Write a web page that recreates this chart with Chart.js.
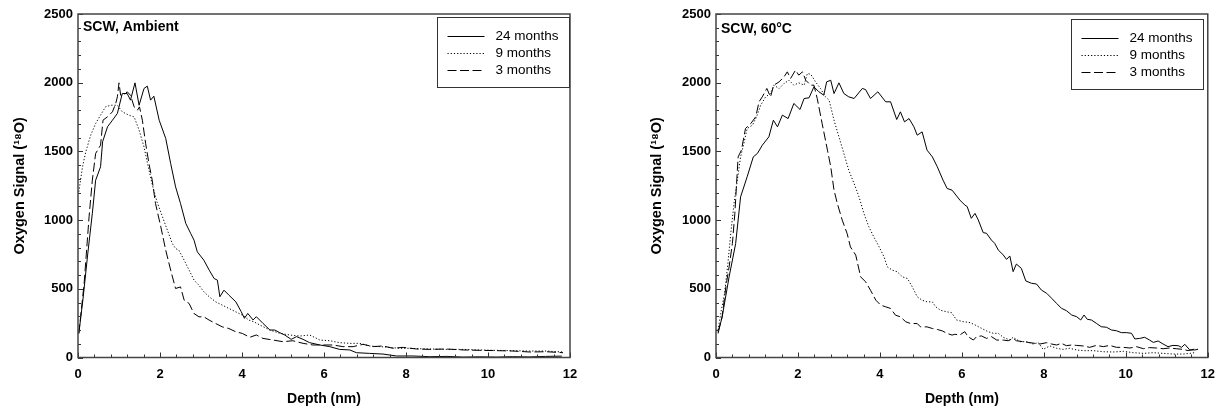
<!DOCTYPE html>
<html>
<head>
<meta charset="utf-8">
<script src="https://cdn.jsdelivr.net/npm/chart.js@4.4.1/dist/chart.umd.min.js"></script>
<style>
  html, body { margin: 0; padding: 0; background: #fff; }
  #wrap { position: relative; width: 1224px; height: 416px; }
  .panel { position: absolute; top: 0; width: 612px; height: 416px; }
</style>
</head>
<body>
<div id="wrap">
  <div class="panel" style="left:0"><canvas id="ambientChart" width="612" height="416"></canvas></div>
  <div class="panel" style="left:612px"><canvas id="hotChart" width="612" height="416"></canvas></div>
</div>
<script>
// [depth nm, 18O signal]
const seriesLabels = ["24 months", "9 months", "3 months"];
const panelNotes = ["SCW, Ambient", "SCW, 60°C"];
const xTickLabels = [0, 2, 4, 6, 8, 10, 12];
const yTickLabels = [0, 500, 1000, 1500, 2000, 2500];

const ambient24 = [[0.02,175],[0.12,420],[0.24,760],[0.35,1050],[0.43,1290],[0.55,1388],[0.6,1570],[0.72,1679],[0.84,1727],[0.96,1776],[1.08,1921],[1.2,1921],[1.28,1873],[1.39,1999],[1.49,1836],[1.61,1958],[1.69,1975],[1.77,1873],[1.85,1902],[1.98,1727],[2.14,1594],[2.26,1412],[2.38,1242],[2.5,1121],[2.63,975],[2.75,902],[2.83,854],[2.91,769],[3.07,708],[3.2,636],[3.32,575],[3.4,563],[3.46,442],[3.56,490],[3.68,454],[3.85,405],[3.98,334],[4.06,285],[4.14,321],[4.27,273],[4.35,297],[4.51,249],[4.68,200],[4.8,200],[4.92,181],[5.04,164],[5.2,132],[5.33,152],[5.49,132],[5.65,108],[5.9,91],[6.14,79],[6.38,59],[6.63,55],[6.79,35],[7.11,30],[7.44,25],[7.77,11],[8.17,11],[8.58,6],[9.0,8],[9.39,3],[9.8,5],[10.2,3],[10.6,6],[11.0,4],[11.4,8],[11.8,10]];
const ambient9 = [[0.02,1206],[0.11,1388],[0.19,1497],[0.31,1618],[0.43,1703],[0.55,1764],[0.67,1824],[0.8,1836],[0.96,1836],[1.08,1788],[1.24,1764],[1.37,1751],[1.49,1655],[1.61,1533],[1.69,1420],[1.81,1260],[1.93,1130],[2.06,1024],[2.18,927],[2.3,830],[2.38,793],[2.46,781],[2.59,708],[2.71,636],[2.83,563],[2.95,526],[3.07,478],[3.2,442],[3.36,405],[3.52,381],[3.68,357],[3.85,332],[4.01,308],[4.17,272],[4.29,260],[4.43,237],[4.68,200],[4.92,176],[5.16,164],[5.41,156],[5.65,164],[5.9,127],[6.14,122],[6.38,108],[6.63,103],[6.87,103],[7.11,84],[7.36,79],[7.6,74],[7.85,67],[8.09,67],[8.33,64],[8.58,62],[8.98,59],[9.39,59],[9.8,55],[10.2,52],[10.61,50],[11.02,47],[11.42,47],[11.83,40]];
const ambient3 = [[0.02,175],[0.15,540],[0.27,1024],[0.35,1291],[0.43,1485],[0.55,1545],[0.61,1727],[0.72,1752],[0.84,1788],[0.92,1849],[0.96,1897],[1.0,1999],[1.04,1909],[1.12,1909],[1.2,1934],[1.28,1909],[1.37,1824],[1.45,1800],[1.5,1824],[1.57,1727],[1.65,1557],[1.73,1412],[1.81,1291],[1.89,1121],[2.02,951],[2.14,781],[2.26,636],[2.38,502],[2.5,514],[2.59,417],[2.71,393],[2.83,320],[2.95,296],[3.07,296],[3.2,272],[3.36,247],[3.52,223],[3.68,211],[3.85,187],[4.01,175],[4.19,147],[4.35,164],[4.51,139],[4.76,127],[5.0,115],[5.24,122],[5.49,103],[5.73,91],[5.98,91],[6.22,91],[6.46,79],[6.71,79],[6.95,96],[7.2,79],[7.44,84],[7.68,67],[7.93,74],[8.25,62],[8.58,59],[8.98,62],[9.39,55],[9.8,52],[10.2,50],[10.61,47],[11.02,40],[11.42,42],[11.83,35]];

const hot24 = [[0.05,175],[0.15,296],[0.32,587],[0.48,830],[0.6,1169],[0.76,1315],[0.91,1460],[1.01,1485],[1.13,1545],[1.29,1606],[1.4,1727],[1.5,1679],[1.62,1764],[1.76,1739],[1.9,1849],[2.05,1805],[2.15,1885],[2.27,1890],[2.39,1970],[2.51,1934],[2.63,1909],[2.7,2006],[2.8,2018],[2.88,1921],[3.0,1999],[3.12,1921],[3.24,1897],[3.37,1885],[3.57,1958],[3.65,1950],[3.77,1885],[3.95,1934],[4.14,1861],[4.26,1861],[4.41,1732],[4.5,1788],[4.6,1715],[4.71,1739],[4.83,1679],[4.91,1618],[5.03,1642],[5.15,1509],[5.28,1460],[5.4,1388],[5.54,1291],[5.64,1230],[5.76,1218],[5.95,1146],[6.07,1110],[6.13,1098],[6.23,1013],[6.32,1049],[6.4,1001],[6.52,909],[6.6,904],[6.72,855],[6.8,831],[6.89,782],[7.01,746],[7.09,714],[7.17,739],[7.25,625],[7.33,680],[7.45,649],[7.56,557],[7.7,540],[7.82,535],[7.94,491],[8.07,467],[8.19,431],[8.31,394],[8.43,358],[8.55,341],[8.68,309],[8.8,297],[8.9,273],[8.98,309],[9.06,278],[9.16,273],[9.28,249],[9.4,224],[9.53,220],[9.65,200],[9.77,195],[9.89,181],[10.02,181],[10.14,176],[10.22,135],[10.34,139],[10.46,147],[10.58,127],[10.67,110],[10.79,120],[10.91,98],[11.03,79],[11.15,88],[11.28,86],[11.36,74],[11.44,96],[11.56,55],[11.68,55],[11.76,59]];
const hot9 = [[0.05,199],[0.13,344],[0.21,466],[0.29,684],[0.36,902],[0.44,1121],[0.52,1291],[0.6,1460],[0.68,1557],[0.76,1667],[0.89,1691],[0.99,1752],[1.09,1836],[1.21,1897],[1.33,1921],[1.41,1982],[1.54,1958],[1.66,1994],[1.78,2018],[1.9,1982],[2.02,1999],[2.15,1982],[2.23,2067],[2.31,2062],[2.43,2006],[2.55,1958],[2.67,1897],[2.76,1873],[2.88,1727],[3.0,1606],[3.12,1485],[3.24,1363],[3.37,1266],[3.49,1169],[3.61,1048],[3.73,951],[3.85,878],[3.98,805],[4.1,733],[4.18,660],[4.3,636],[4.42,624],[4.55,587],[4.67,575],[4.79,514],[4.91,442],[5.03,417],[5.15,405],[5.28,405],[5.36,369],[5.48,344],[5.64,332],[5.75,326],[5.87,273],[6.03,261],[6.2,254],[6.32,237],[6.48,212],[6.64,188],[6.77,176],[6.89,176],[7.01,147],[7.17,127],[7.25,147],[7.42,115],[7.58,115],[7.74,98],[7.87,108],[7.98,59],[8.15,84],[8.31,67],[8.47,59],[8.63,67],[8.8,55],[8.96,50],[9.2,50],[9.45,42],[9.69,40],[9.94,45],[10.18,35],[10.43,30],[10.67,35],[10.91,30],[11.16,25],[11.4,25],[11.56,30],[11.68,35]];
const hot3 = [[0.05,187],[0.15,296],[0.24,514],[0.32,660],[0.4,830],[0.46,1048],[0.54,1460],[0.62,1509],[0.72,1667],[0.85,1703],[0.97,1752],[1.05,1861],[1.13,1897],[1.24,1958],[1.33,1897],[1.41,1982],[1.54,2006],[1.66,2043],[1.74,2079],[1.82,2031],[1.94,2091],[2.02,2055],[2.11,2079],[2.19,2018],[2.31,1982],[2.39,1982],[2.47,1885],[2.59,1703],[2.72,1509],[2.8,1388],[2.88,1218],[2.96,1121],[3.08,1000],[3.2,902],[3.28,805],[3.41,745],[3.53,587],[3.65,551],[3.77,490],[3.9,417],[4.02,381],[4.14,369],[4.26,357],[4.38,308],[4.5,296],[4.63,260],[4.75,247],[4.91,247],[4.99,223],[5.15,223],[5.28,211],[5.4,204],[5.52,194],[5.64,175],[5.76,163],[5.83,169],[5.95,164],[6.07,188],[6.15,152],[6.28,127],[6.36,152],[6.48,157],[6.6,139],[6.72,152],[6.85,127],[7.01,127],[7.13,122],[7.25,139],[7.33,122],[7.5,115],[7.66,108],[7.78,103],[7.9,98],[8.07,108],[8.19,98],[8.31,91],[8.43,103],[8.55,86],[8.68,91],[8.8,88],[8.96,84],[9.12,74],[9.28,88],[9.45,79],[9.61,88],[9.77,74],[9.94,74],[10.1,69],[10.26,79],[10.43,64],[10.58,72],[10.75,69],[10.91,64],[11.07,69],[11.23,64],[11.4,59],[11.52,50],[11.64,59],[11.76,64]];

const FONT = "'Liberation Sans', Arial, sans-serif";
Chart.defaults.font.family = FONT;
Chart.defaults.color = "#000";

const lineStyles = [
  { borderDash: [] },
  { borderDash: [1.2, 2] },
  { borderDash: [9, 3.5] },
];

// inward tick marks, box frame, panel note
const frameTicks = {
  id: "frameTicks",
  afterDatasetsDraw(chart, args, opts) {
    const { ctx, chartArea: a, scales } = chart;
    ctx.save();
    ctx.strokeStyle = "#333";
    ctx.lineWidth = 1;
    scales.x.ticks.forEach(t => {
      const px = Math.round(scales.x.getPixelForValue(t.value)) + 0.5;
      const len = t.label ? 5 : 3;
      ctx.beginPath();
      ctx.moveTo(px, a.bottom);
      ctx.lineTo(px, a.bottom - len);
      ctx.stroke();
    });
    scales.y.ticks.forEach(t => {
      const py = Math.round(scales.y.getPixelForValue(t.value)) + 0.5;
      const len = t.label ? 5 : 3;
      ctx.beginPath();
      ctx.moveTo(a.left, py);
      ctx.lineTo(a.left + len, py);
      ctx.stroke();
    });
    ctx.lineWidth = 1.5;
    ctx.strokeStyle = "#444";
    ctx.strokeRect(a.left, a.top, a.right - a.left, a.bottom - a.top);

    ctx.fillStyle = "#000";
    ctx.font = "bold 14px " + FONT;
    ctx.textBaseline = "middle";
    ctx.textAlign = "left";
    ctx.fillText(opts.note, a.left + 5, a.top + opts.noteY);
    ctx.restore();
  }
};

// boxed legend inside the plot, top right
const boxLegend = {
  id: "boxLegend",
  afterDraw(chart, args, opts) {
    const { ctx, chartArea: a } = chart;
    const w = 132, h = 70;
    const x0 = Math.round(a.right - opts.inset - w) + 0.5;
    const y0 = Math.round(a.top + opts.top) + 0.5;
    ctx.save();
    ctx.fillStyle = "#fff";
    ctx.fillRect(x0, y0, w, h);
    ctx.strokeStyle = "#333";
    ctx.lineWidth = 1;
    ctx.strokeRect(x0, y0, w, h);
    chart.data.datasets.forEach((ds, i) => {
      const yy = Math.round(y0 + 18 + i * 17.4) + 0.5;
      ctx.strokeStyle = "#000";
      ctx.lineWidth = ds.borderWidth;
      ctx.setLineDash(ds.borderDash);
      ctx.beginPath();
      ctx.moveTo(x0 + 10, yy);
      ctx.lineTo(x0 + 47, yy);
      ctx.stroke();
      ctx.setLineDash([]);
      ctx.fillStyle = "#000";
      ctx.font = "13.5px " + FONT;
      ctx.textBaseline = "middle";
      ctx.fillText(ds.label, x0 + 58, yy);
    });
    ctx.restore();
  }
};

function makeChart(canvasId, series, cfg) {
  const datasets = series.map((pts, i) => ({
    label: seriesLabels[i],
    data: pts.map(p => ({ x: p[0], y: p[1] })),
    borderColor: "#000",
    borderWidth: 1,
    borderDash: lineStyles[i].borderDash,
    pointRadius: 0,
    tension: 0,
    fill: false,
  }));

  return new Chart(document.getElementById(canvasId), {
    type: "line",
    data: { datasets },
    options: {
      responsive: false,
      animation: false,
      layout: { padding: { left: 0, right: cfg.padRight, top: 14, bottom: 0 } },
      plugins: {
        legend: { display: false },
        tooltip: { enabled: false },
        frameTicks: { note: cfg.note, noteY: cfg.noteY },
        boxLegend: { inset: cfg.legendInset, top: cfg.legendTop },
      },
      scales: {
        x: {
          type: "linear",
          min: 0,
          max: 12,
          grid: { display: false, drawTicks: false },
          border: { display: false },
          ticks: {
            stepSize: 0.4,
            autoSkip: false,
            maxRotation: 0,
            padding: 9,
            font: { size: 13, weight: "bold" },
            callback: v => (xTickLabels.some(t => Math.abs(t - v) < 1e-6) ? String(Math.round(v)) : ""),
          },
          title: {
            display: true,
            text: "Depth (nm)",
            font: { size: 14, weight: "bold" },
            padding: { top: 0, bottom: 8 },
          },
          afterFit: s => { s.height = 58.5; },
        },
        y: {
          min: 0,
          max: 2500,
          grid: { display: false, drawTicks: false },
          border: { display: false },
          ticks: {
            stepSize: 100,
            autoSkip: false,
            padding: 5,
            font: { size: 13, weight: "bold" },
            callback: v => (yTickLabels.includes(Math.round(v)) ? String(Math.round(v)) : ""),
          },
          title: {
            display: true,
            text: "Oxygen Signal (¹⁸O)",
            font: { size: 14.5, weight: "bold" },
            padding: { top: cfg.yTitlePad, bottom: 0 },
          },
          afterFit: s => { s.width = cfg.yWidth; },
        },
      },
    },
    plugins: [frameTicks, boxLegend],
  });
}

makeChart("ambientChart", [ambient24, ambient9, ambient3], {
  note: panelNotes[0], noteY: 13, padRight: 42, yWidth: 78, yTitlePad: 11,
  legendInset: 1, legendTop: 3,
});
makeChart("hotChart", [hot24, hot9, hot3], {
  note: panelNotes[1], noteY: 15, padRight: 16, yWidth: 104, yTitlePad: 36,
  legendInset: 5, legendTop: 5,
});
</script>
</body>
</html>
